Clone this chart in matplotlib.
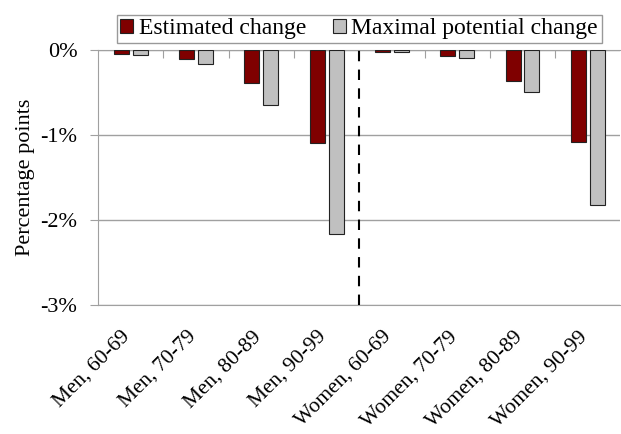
import numpy as np
import matplotlib.pyplot as plt

plt.rcParams['font.family'] = ['Liberation Serif', 'DejaVu Serif']

# Datos (puntos porcentuales)
groups = ['Men, 60-69', 'Men, 70-79', 'Men, 80-89', 'Men, 90-99',
          'Women, 60-69', 'Women, 70-79', 'Women, 80-89', 'Women, 90-99']
estimated = [-0.05, -0.11, -0.39, -1.10, -0.02, -0.07, -0.37, -1.08]
maximal = [-0.06, -0.16, -0.65, -2.16, -0.03, -0.09, -0.50, -1.82]
yticks = [0, -1, -2, -3]
ytick_labels = ['0%', '-1%', '-2%', '-3%']

fig = plt.figure(figsize=(6.21, 4.34), dpi=100)
ax = fig.add_axes([0.158, 0.297, 0.841, 0.588])

x = np.arange(len(groups))
w = 0.23
ax.bar(x - 0.144, estimated, w, color='#7f0000', edgecolor='#222222', lw=0.8,
       label='Estimated change', zorder=3)
ax.bar(x + 0.144, maximal, w, color='#c0c0c0', edgecolor='#222222', lw=0.8,
       label='Maximal potential change', zorder=3)

ax.set_xlim(-0.5, len(groups) - 0.5)
ax.set_ylim(-3, 0)
ax.set_yticks(yticks)
ax.set_yticklabels(ytick_labels, fontsize=16)
ax.set_ylabel('Percentage points', fontsize=16, labelpad=4)
ax.yaxis.grid(True, color='#a0a0a0', lw=1, zorder=0)

ax.set_xticks(x)
ax.set_xticklabels(groups, rotation=45, ha='right', va='baseline',
                   rotation_mode='anchor', fontsize=15.5)
ax.tick_params(axis='x', length=0, pad=23)
ax.tick_params(axis='y', length=6, color='#a0a0a0', direction='out', pad=9)

for s in ['left', 'bottom', 'top']:
    ax.spines[s].set_color('#a0a0a0')
ax.spines['right'].set_visible(False)

# ticks entre categorías en la línea del 0%
top = ax.secondary_xaxis('top')
top.set_xticks(np.arange(0.5, len(groups) - 1, 1.0))
top.set_xticklabels([])
top.tick_params(length=6, direction='in', color='#a0a0a0')
top.spines['top'].set_visible(False)

# separación hombres / mujeres
ax.axvline(3.5, color='black', ls=(0, (5, 4)), lw=1.5, zorder=4)

leg = ax.legend(loc='lower center', bbox_to_anchor=(0.5, 1.0), ncol=2,
                fontsize=17, frameon=True, fancybox=False, borderpad=0.15,
                handlelength=0.55, handleheight=0.55, handletextpad=0.25,
                columnspacing=1.1, borderaxespad=0.3)
leg.get_frame().set_edgecolor('#808080')
leg.get_frame().set_linewidth(1)

fig.savefig('out.png', dpi=100)
